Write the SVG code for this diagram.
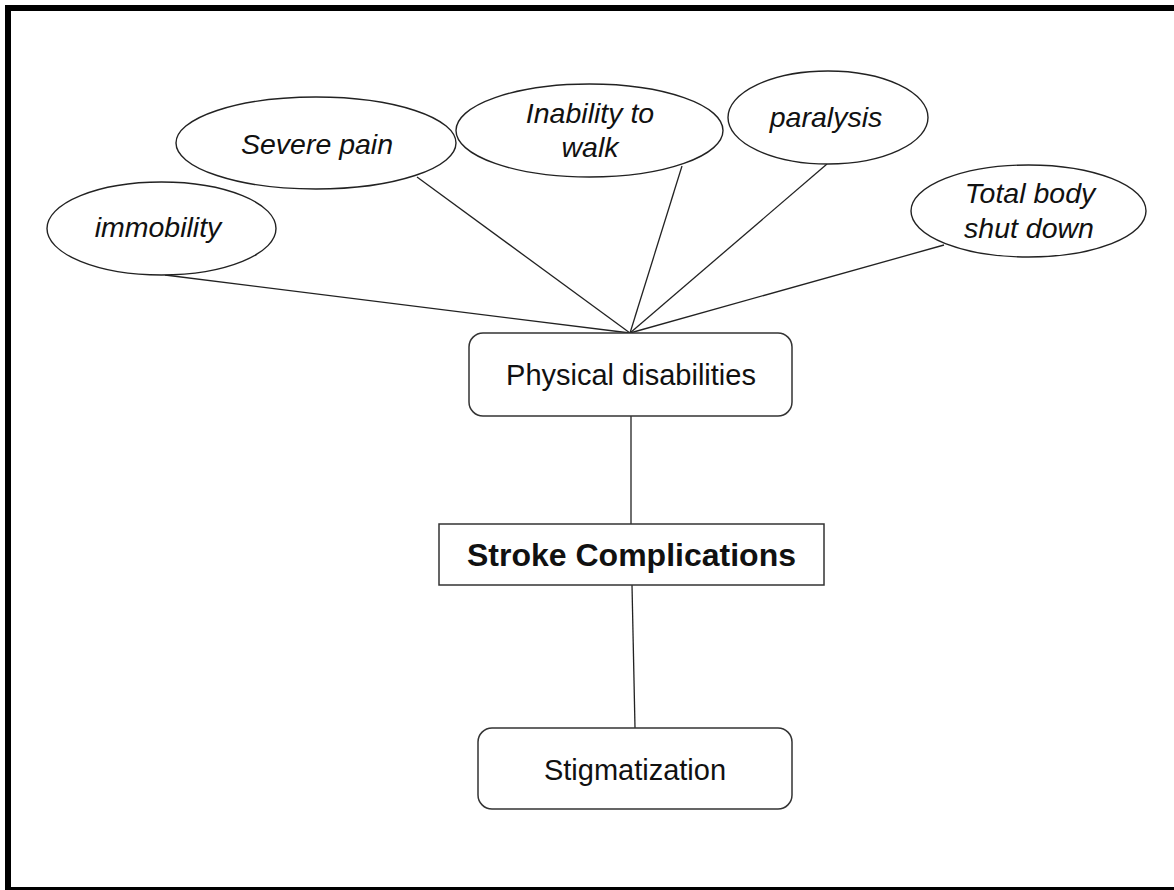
<svg xmlns="http://www.w3.org/2000/svg" width="1174" height="890" viewBox="0 0 1174 890">
  <style>
    .frame { fill: none; stroke: #000; stroke-width: 6; }
    .oval { fill: #fff; stroke: #222; stroke-width: 1.4; }
    .box { fill: #fff; stroke: #333; stroke-width: 1.5; }
    .edge { stroke: #222; stroke-width: 1.3; fill: none; }
    text { font-family: "Liberation Sans", Arial, sans-serif; fill: #111; text-anchor: middle; }
    .it { font-style: italic; font-size: 28.5px; }
    .reg { font-size: 29px; }
    .bold { font-weight: bold; font-size: 32px; }
  </style>
  <rect x="0" y="0" width="1174" height="890" fill="#fff"/>
  <rect class="frame" x="8" y="8" width="1180" height="882"/>

  <!-- connectors -->
  <g id="connectors">
    <line class="edge" x1="165" y1="275" x2="630" y2="333"/>
    <line class="edge" x1="417" y1="177" x2="630" y2="333"/>
    <line class="edge" x1="682" y1="166" x2="630" y2="333"/>
    <line class="edge" x1="827" y1="164" x2="630" y2="333"/>
    <line class="edge" x1="944" y1="245" x2="630" y2="333"/>
    <line class="edge" x1="631" y1="416" x2="631" y2="524"/>
    <line class="edge" x1="632" y1="585" x2="635" y2="728"/>
  </g>

  <g id="immobility">
    <ellipse class="oval" cx="161.5" cy="228.5" rx="114.5" ry="46.5"/>
    <text class="it" x="158" y="237">immobility</text>
  </g>
  <g id="severe-pain">
    <ellipse class="oval" cx="316" cy="143" rx="140" ry="46"/>
    <text class="it" x="317" y="154">Severe pain</text>
  </g>
  <g id="inability-to-walk">
    <ellipse class="oval" cx="589.5" cy="130.5" rx="133.5" ry="46.5"/>
    <text class="it" x="590" y="123">Inability to</text>
    <text class="it" x="590" y="157">walk</text>
  </g>
  <g id="paralysis">
    <ellipse class="oval" cx="828" cy="117.5" rx="100" ry="46.5"/>
    <text class="it" x="826" y="127">paralysis</text>
  </g>
  <g id="total-body-shut-down">
    <ellipse class="oval" cx="1028.5" cy="211" rx="117.5" ry="46"/>
    <text class="it" x="1030" y="203">Total body</text>
    <text class="it" x="1029" y="238">shut down</text>
  </g>

  <g id="physical-disabilities">
    <rect class="box" x="469" y="333" width="323" height="83" rx="14" ry="14"/>
    <text class="reg" x="631" y="385">Physical disabilities</text>
  </g>
  <g id="stroke-complications">
    <rect class="box" x="439" y="524" width="385" height="61"/>
    <text class="bold" x="631.5" y="566">Stroke Complications</text>
  </g>
  <g id="stigmatization">
    <rect class="box" x="478" y="728" width="314" height="81" rx="14" ry="14"/>
    <text class="reg" x="635" y="780">Stigmatization</text>
  </g>
</svg>
